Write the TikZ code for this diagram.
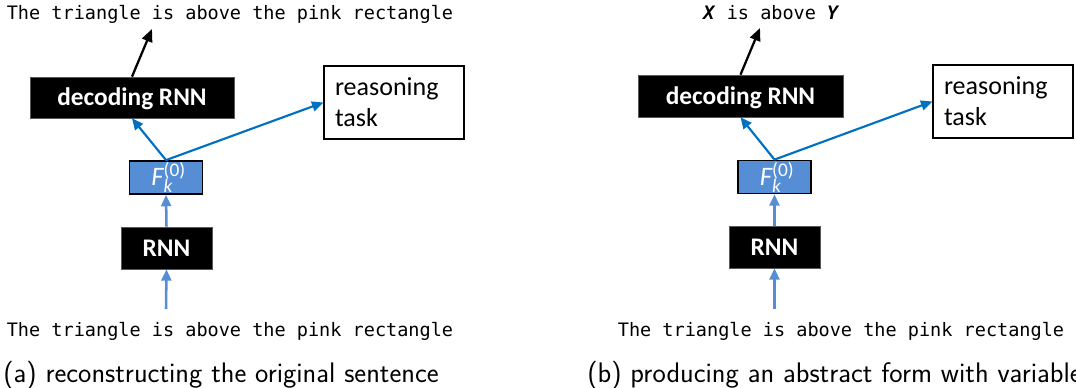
\documentclass[tikz,border=0pt]{standalone}
\usepackage{fontspec}
\setmainfont{Carlito}
\setmonofont{DejaVu Sans Mono}
\usetikzlibrary{arrows.meta}
\definecolor{arrowblue}{HTML}{0070C0}
\definecolor{featblue}{HTML}{558ED5}

% label of the feature box: F with sub- and superscript
\newcommand\featlabel{\hspace*{6pt}{\itshape F}\makebox[0pt][l]{\raisebox{6.75pt}{\fontsize{14.5}{14.5}\selectfont(0)}}\raisebox{-5.25pt}{\fontsize{14.5}{14.5}\selectfont\itshape k}\hspace*{12pt}}

\begin{document}
\begin{tikzpicture}[x=0.75pt,y=-0.75pt,
  blackbox/.style={fill=black, draw=black!65, line width=0.5pt, text=white,
    font=\fontsize{19}{22}\selectfont\bfseries, inner sep=0pt,
    text height=12.2pt, text depth=0pt},
  taskbox/.style={draw=black, line width=1pt, fill=white, align=left,
    font=\fontsize{19.5}{23.25}\selectfont, inner xsep=8.25pt, inner ysep=0pt,
    text width=88.5pt, minimum width=105pt, minimum height=54.75pt},
  featbox/.style={draw=black, line width=1.1pt, fill=featblue, text=white,
    font=\fontsize{20}{22}\selectfont, minimum width=55pt, minimum height=25pt,
    inner sep=0pt},
  sentence/.style={font=\ttfamily\fontsize{13.9}{16}\selectfont, inner sep=0pt, anchor=base},
  caption/.style={font=\sffamily\fontsize{21.2}{25}\selectfont, inner sep=0pt, anchor=base west},
  outarrow/.style={-{Triangle[length=9.5pt,width=8pt]}, line width=1.7pt, black},
  feedarrow/.style={-{Triangle[length=8.5pt,width=7.5pt]}, line width=1.6pt, arrowblue},
  inarrow/.style={-{Triangle[length=8.5pt,width=7.5pt]}, line width=1.9pt, featblue}]

\useasboundingbox (0,0) rectangle (1076,387);
\clip (0,0) rectangle (1076,387);

% ---------- (a) reconstructing the original sentence ----------
\node[blackbox, minimum width=153pt, minimum height=30.75pt] (adec) at (132,97.5) {decoding RNN};
\node[taskbox] (atask) at (394,102.5) {reasoning\\task};
\node[featbox] (afeat) at (166,177.5) {\featlabel};
\node[blackbox, minimum width=68.25pt, minimum height=31.5pt] (arnn) at (166.5,248) {RNN};
\node[sentence] (aout) at (230,19) {The triangle is above the pink rectangle};
\node[sentence] (ain) at (230,336) {The triangle is above the pink rectangle};
\node[caption] (acap) at (3,382) {(a) reconstructing the original sentence};
\coordinate (aouttip) at (152,29);
\coordinate (ainstart) at (166,309);

\draw[outarrow] (adec.north) -- (aouttip);
\draw[feedarrow] (afeat.north) -- (adec.south);
\draw[feedarrow] (afeat.north) -- (atask.west);
\draw[inarrow] (arnn.north) -- (afeat.south);
\draw[inarrow] (ainstart) -- (arnn.south);

% ---------- (b) producing an abstract form with variables ----------
\node[blackbox, minimum width=153.75pt, minimum height=31.5pt] (bdec) at (740.5,96) {decoding RNN};
\node[taskbox] (btask) at (1003,101.5) {reasoning\\task};
\node[featbox] (bfeat) at (774.5,177) {\featlabel};
\node[blackbox, minimum width=68.25pt, minimum height=31.5pt] (brnn) at (774.5,247) {RNN};
\node[sentence] (bout) at (771.5,19) {\textbf{\textit{X}} is above \textbf{\textit{Y}}};
\node[sentence] (bin) at (841,336) {The triangle is above the pink rectangle};
\node[caption] (bcap) at (587,382) {(b) producing an abstract form with variable};
\coordinate (bouttip) at (760,28);
\coordinate (binstart) at (774.5,309);

\draw[outarrow] (bdec.north) -- (bouttip);
\draw[feedarrow] (bfeat.north) -- (bdec.south);
\draw[feedarrow] (bfeat.north) -- (btask.west);
\draw[inarrow] (brnn.north) -- (bfeat.south);
\draw[inarrow] (binstart) -- (brnn.south);
\end{tikzpicture}
\end{document}
